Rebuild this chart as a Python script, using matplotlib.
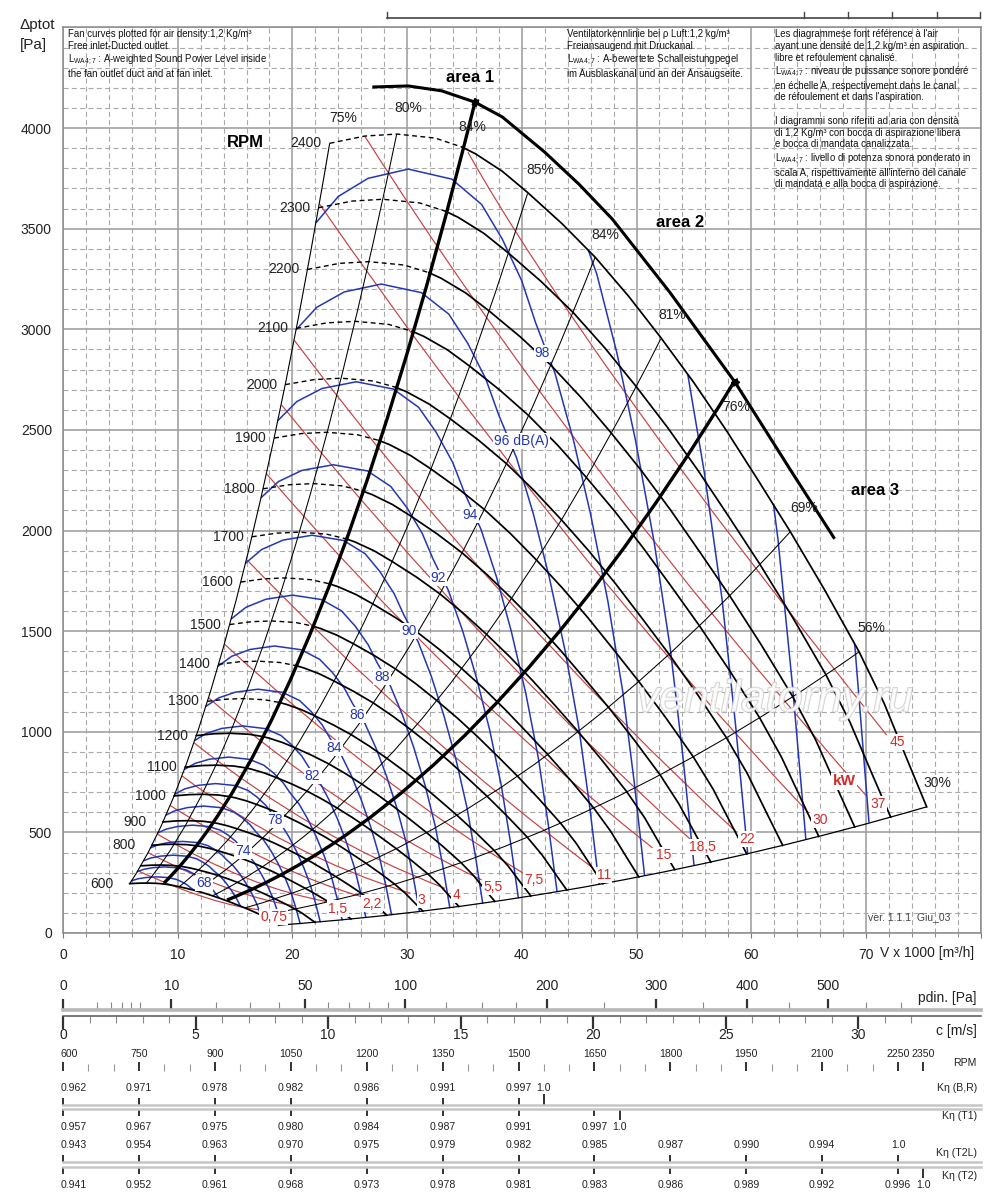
import numpy as np
import matplotlib
matplotlib.use('Agg')
import matplotlib.pyplot as plt
from matplotlib import font_manager
from matplotlib.path import Path
from matplotlib.patches import PathPatch
from matplotlib.transforms import Affine2D
from matplotlib.lines import Line2D
from matplotlib.ticker import MultipleLocator, FixedLocator
import matplotlib.patheffects as pe

plt.rcParams['font.family'] = ['Liberation Sans', 'DejaVu Sans']
plt.rcParams['mathtext.fontset'] = 'custom'
plt.rcParams['mathtext.rm'] = 'Liberation Sans'

# narrow face for the small scales, if there is one
try:
    font_manager.findfont('Liberation Sans Narrow', fallback_to_default=False)
    NARROW, NSIZE = ['Liberation Sans Narrow', 'DejaVu Sans'], 8.5
except ValueError:
    NARROW, NSIZE = ['Liberation Sans', 'DejaVu Sans'], 7.6

# ---------------- data ----------------
# fan curve at 2400 rpm (V x1000 m3/h, total pressure Pa); other speeds by fan laws
curve_v = [23.25, 26.3, 29.1, 32.45, 34.8, 35.96, 38.3, 40.5, 43.5, 46.4, 49.3,
           52.1, 55.0, 57.8, 60.6, 63.4, 66.4, 69.4, 71.6, 73.6, 75.3]
curve_p = [3924, 3960, 3970, 3950, 3905, 3872, 3785, 3680, 3525, 3358, 3165,
           2960, 2735, 2500, 2250, 1995, 1705, 1398, 1140, 861, 627]
top_speed = 2400
dash_end = 4            # point where the curve meets the area 1 line
dashed_from = 1300
speeds = list(range(600, 2401, 100))
speed_text = ['600', '', '800', '900', '1000', '1100', '1200', '1300', '1400', '1500',
              '1600', '1700', '1800', '1900', '2000', '2100', '2200', '2300', '2400']

# sound power curve for 98 dB(A); neighbouring curves 2 dB apart
noise_v = [22.1, 24.0, 26.6, 30.1, 33.9, 36.5, 38.3, 40.0, 41.2, 42.9, 44.5, 46.0,
           47.5, 48.8, 49.8, 50.7]
noise_p = [3532, 3660, 3750, 3796, 3746, 3620, 3448, 3240, 3033, 2780, 2450, 2080,
           1650, 1200, 750, 288]
noise_db = list(range(66, 107, 2))
noise_step = 1.085
noise_label_db = [68, 74, 78, 82, 84, 86, 88, 90, 92, 94, 96, 98]
noise_label_at = (41.8, 2880)

# efficiency system lines p = k V^2 (thin), top end on the 2400 rpm curve
eff_k = [4.69, 2.24, 1.56, 1.087, 0.496, 0.29]
eff_v_top = [29.1, 40.5, 46.4, 52.1, 63.4, 69.4]
# thick area boundaries
area_k = [3.2, 0.8]
area_v0 = [8.8, 14.3]
area_v1 = [35.9, 58.6]
eff_text = ['75%', '80%', '84%', '85%', '84%', '81%', '76%', '69%', '56%', '30%']
eff_text_v = [24.4, 30.1, 35.7, 41.6, 47.3, 53.1, 58.7, 64.6, 70.5, 76.2]
eff_text_p = [4050, 4099, 4005, 3791, 3468, 3071, 2615, 2110, 1514, 744]

# upper limit curve
env_v = [27.1, 30.1, 33.0, 35.9, 38.3, 42.0, 45.0, 47.9, 52.9, 58.6, 63.4, 67.2]
env_p = [4204, 4209, 4185, 4129, 4055, 3880, 3720, 3547, 3184, 2736, 2303, 1965]

# absorbed power lines kW: start, middle, end
kw_text = ['0,75', '', '1,5', '2,2', '3', '4', '5,5', '7,5', '11', '15', '18,5', '22', '30', '37', '45']
kw_v0 = [6.54, 7.43, 8.24, 9.36, 10.39, 11.43, 12.71, 14.09, 16.02, 17.76, 19.05, 20.18, 22.38, 26.3, 35.3]
kw_p0 = [309, 399, 491, 633, 780, 945, 1168, 1435, 1855, 2281, 2624, 2944, 3621, 3960, 3880]
kw_v1 = [12.6, 14.3, 15.9, 18.1, 20.0, 22.1, 24.5, 27.2, 30.9, 34.3, 36.8, 38.9, 43.2, 46.3, 49.4]
kw_p1 = [173, 224, 275, 355, 437, 528, 653, 804, 1038, 1277, 1468, 1648, 2027, 2330, 2653]
kw_v2 = [17.4, 20.2, 23.0, 26.0, 30.3, 33.3, 36.5, 40.1, 46.2, 51.4, 54.8, 58.7, 65.0, 70.1, 71.8]
kw_p2 = [114, 135, 156, 181, 197, 222, 264, 298, 323, 423, 460, 502, 597, 677, 984]

# scales under the chart
outlet_area = 0.642      # m2
air_density = 1.2
c_major = [0, 5, 10, 15, 20, 25, 30]
c_minor = list(range(0, 33))
pdin_major = [0, 10, 50, 100, 200, 300, 400, 500]
pdin_minor = [1, 2, 3, 4, 5, 20, 30, 40, 60, 70, 80, 90, 125, 150, 175, 250, 350, 450, 550, 600]
rpm_ticks = [600, 750, 900, 1050, 1200, 1350, 1500, 1650, 1800, 1950, 2100, 2250, 2300]
rpm_text = ['600', '750', '900', '1050', '1200', '1350', '1500', '1650', '1800', '1950',
            '2100', '2250', '2350']
rpm_minor = list(range(600, 2251, 50))
rpm_axis = (600, 2413)
k_br_rpm = [600, 750, 900, 1050, 1200, 1350, 1500, 1550]
k_br = ['0.962', '0.971', '0.978', '0.982', '0.986', '0.991', '0.997', '1.0']
k_t1_rpm = [600, 750, 900, 1050, 1200, 1350, 1500, 1650, 1700]
k_t1 = ['0.957', '0.967', '0.975', '0.980', '0.984', '0.987', '0.991', '0.997', '1.0']
k_t2l_rpm = [600, 750, 900, 1050, 1200, 1350, 1500, 1650, 1800, 1950, 2100, 2250]
k_t2l = ['0.943', '0.954', '0.963', '0.970', '0.975', '0.979', '0.982', '0.985', '0.987',
         '0.990', '0.994', '1.0']
k_t2_rpm = [600, 750, 900, 1050, 1200, 1350, 1500, 1650, 1800, 1950, 2100, 2250, 2300]
k_t2 = ['0.941', '0.952', '0.961', '0.968', '0.973', '0.978', '0.981', '0.983', '0.986',
        '0.989', '0.992', '0.996', '1.0']

BLUE = '#2436b8'
RED = '#c94040'
RED_T = '#d42a2a'
WHITE_BOX = dict(boxstyle='square,pad=0.08', fc='white', ec='none')

# ---------------- figure ----------------
W, H = 1000, 1203
X0, XW = 63 / W, 917.6 / W
fig = plt.figure(figsize=(W / 100, H / 100), dpi=100)
ax = fig.add_axes([X0, 1 - 933 / H, XW, 905.6 / H])
ax.set_xlim(0, 80)
ax.set_ylim(0, 4500)
ax.set_xticks(range(0, 81, 10))
ax.set_xticklabels([str(v) for v in range(0, 71, 10)] + [''])
ax.set_yticks(range(0, 4501, 500))
ax.set_yticklabels([str(v) for v in range(0, 4001, 500)] + [''])
ax.xaxis.set_minor_locator(MultipleLocator(2))
ax.yaxis.set_minor_locator(MultipleLocator(100))
ax.grid(which='major', color='#9a9a9a', lw=1.1)
ax.grid(which='minor', color='#a8a8a8', lw=0.8, ls=(0, (4.5, 3)))
ax.set_axisbelow(True)
ax.tick_params(axis='x', which='major', length=3.5, width=0.8, color='#777',
               labelsize=10, pad=7, labelcolor='#222')
ax.tick_params(axis='x', which='minor', length=3, width=0.7, color='#888')
ax.tick_params(axis='y', which='both', length=0, labelsize=10, pad=8, labelcolor='#222')
for sp in ax.spines.values():
    sp.set_color('#8c8c8c')
    sp.set_linewidth(1.1)


def system_line(k, v0, v1, **kw):
    # parabola p = k V^2 drawn as a quadratic bezier
    verts = [(v0, k * v0 * v0), ((v0 + v1) / 2, k * v0 * v1), (v1, k * v1 * v1)]
    ax.add_patch(PathPatch(Path(verts, [Path.MOVETO, Path.CURVE3, Path.CURVE3]),
                           fill=False, **kw))


def fan_law(s):
    return Affine2D().scale(s, s * s) + ax.transData


# region inside the fan map (under 2400 rpm, above 600 rpm)
base = np.column_stack([curve_v, curve_p])
s_lo = speeds[0] / top_speed
lo = Affine2D().scale(s_lo, s_lo ** 2).transform(base)
clip = Path(np.vstack([base, [[80, -100], [lo[-1, 0], -100]], lo[::-1], base[:1]]))

# absorbed power lines
for i in range(len(kw_text)):
    s0 = np.array([kw_v0[i], kw_p0[i]])
    m = np.array([kw_v1[i], kw_p1[i]])
    e = np.array([kw_v2[i], kw_p2[i]])
    ctrl = 2 * m - (s0 + e) / 2
    ax.add_patch(PathPatch(Path([s0, ctrl, e], [Path.MOVETO, Path.CURVE3, Path.CURVE3]),
                           fill=False, color=RED, lw=0.85, zorder=2))
    if kw_text[i]:
        ax.annotate(kw_text[i], xy=(kw_v2[i], kw_p2[i]), xytext=(8, -5),
                    textcoords='offset points', ha='center', va='center',
                    color=RED_T, fontsize=10, zorder=7, bbox=WHITE_BOX)
ax.text(68.1, 753, 'kW', color=RED_T, fontsize=11, fontweight='bold',
        ha='center', va='center', zorder=7, bbox=WHITE_BOX)

# sound power curves
for db in noise_db:
    s = noise_step ** ((db - 98) / 2)
    ln, = ax.plot(noise_v, noise_p, transform=fan_law(s), color=BLUE, lw=1.1, zorder=3)
    ln.set_clip_path(clip, ax.transData)
for db in noise_label_db:
    s = noise_step ** ((db - 98) / 2)
    if db == 96:
        ax.annotate('96 dB(A)', xy=noise_label_at, xycoords=fan_law(s), xytext=(-8, 0),
                    textcoords='offset points', ha='left', va='center', color=BLUE,
                    fontsize=10, zorder=7, bbox=WHITE_BOX)
    else:
        ax.annotate(str(db), xy=noise_label_at, xycoords=fan_law(s), ha='center',
                    va='center', color=BLUE, fontsize=10, zorder=7, bbox=WHITE_BOX)

# efficiency lines
k_stall = curve_p[0] / curve_v[0] ** 2
k_end = curve_p[-1] / curve_v[-1] ** 2
system_line(k_stall, curve_v[0] * s_lo, curve_v[0], color='k', lw=0.8, zorder=4)
system_line(k_end, curve_v[-1] * s_lo, curve_v[-1], color='k', lw=0.9, zorder=4)
for k, vt in zip(eff_k, eff_v_top):
    system_line(k, vt * s_lo, vt, color='k', lw=0.75, zorder=4)
for k, v0, v1 in zip(area_k, area_v0, area_v1):
    system_line(k, v0, v1, color='k', lw=2.4, zorder=5)
for t, v, p in zip(eff_text, eff_text_v, eff_text_p):
    ax.text(v, p, t, fontsize=10, ha='center', va='center', color='#222', zorder=7)

# fan curves
for n, lab in zip(speeds, speed_text):
    tr = fan_law(n / top_speed)
    if n >= dashed_from:
        ax.plot(curve_v[:dash_end + 1], curve_p[:dash_end + 1], transform=tr, color='k',
                lw=1.0, ls=(0, (3.5, 2.5)), zorder=4)
        ax.plot(curve_v[dash_end:], curve_p[dash_end:], transform=tr, color='k',
                lw=1.25, zorder=4)
    else:
        ax.plot(curve_v, curve_p, transform=tr, color='k', lw=1.25, zorder=4)
    if lab:
        ax.annotate(lab, xy=(curve_v[0], curve_p[0]), xycoords=tr,
                    xytext=(-6 if n >= 1000 else -12, 0), textcoords='offset points',
                    ha='right', va='center', fontsize=10, color='#222', zorder=7)

# limit curve with the area marks
ax.plot(env_v, env_p, color='k', lw=2.2, zorder=5)
for (v, p), ang in zip([(35.9, 4129), (58.6, 2736)], [-23, -56]):
    ax.plot(v, p, marker=(3, 0, ang - 90), ms=6, color='k', zorder=6)
    ax.plot(v, p, marker=(3, 0, ang + 90), ms=6, color='k', zorder=6)

ax.text(35.5, 4249, 'area 1', fontsize=12, fontweight='bold', ha='center', va='center')
ax.text(53.8, 3533, 'area 2', fontsize=12, fontweight='bold', ha='center', va='center')
ax.text(70.8, 2201, 'area 3', fontsize=12, fontweight='bold', ha='center', va='center')
ax.text(15.9, 3930, 'RPM', fontsize=12, fontweight='bold', ha='center', va='center')
ax.text(73.8, 80, 'ver. 1.1.1  Giu_03', fontsize=7.5, ha='center', va='center', color='#444')
ax.text(62.1, 1158, 'ventilatorny.ru', fontsize=32, style='italic', ha='center',
        va='center', color='white', alpha=0.75, zorder=8,
        path_effects=[pe.withStroke(linewidth=1.3, foreground='#c4c4c4')])

# notes
lwa = r'L$_{\mathrm{WA4;7}}$'
note_kw = dict(fontsize=6.9, va='top', linespacing=1.22, color='#111')
fig.text(68 / W, 1 - 29 / H,
         'Fan curves plotted for air density:1,2 Kg/m³\nFree inlet-Ducted outlet.\n'
         + lwa + ' : A-weighted Sound Power Level inside\nthe fan outlet duct and at fan inlet.',
         **note_kw)
fig.text(567 / W, 1 - 29 / H,
         'Ventilatorkennlinie bei ρ Luft:1,2 kg/m³\nFreiansaugend mit Druckanal.\n'
         + lwa + ' : A-bewertete Schalleistungpegel\nim Ausblaskanal und an der Ansaugseite.',
         **note_kw)
fig.text(775 / W, 1 - 29 / H,
         "Les diagrammese font référence à l'air\nayant une densité de 1,2 kg/m³ en aspiration\n"
         "libre et refoulement canalisé.\n" + lwa + " : niveau de puissance sonore pondéré\n"
         "en échelle A, respectivement dans le canal\nde réfoulement et dans l'aspiration.\n\n"
         "I diagrammi sono riferiti ad aria con densità\ndi 1,2 Kg/m³ con bocca di aspirazione libera\n"
         "e bocca di mandata canalizzata.\n" + lwa + " : livello di potenza sonora ponderato in\n"
         "scala A, rispettivamente all'interno del canale\ndi mandata e alla bocca di aspirazione.",
         **note_kw)
fig.text(20 / W, 1 - 25 / H, 'Δptot', fontsize=11, va='center', color='#222')
fig.text(20 / W, 1 - 45 / H, '[Pa]', fontsize=11, va='center', color='#222')
fig.text(880 / W, 1 - 953 / H, 'V x 1000 [m³/h]', fontsize=10, va='center', color='#222')

# cropped header box at the top
fig.add_artist(Line2D([387 / W, 980 / W], [1 - 18 / H] * 2, color='#444', lw=1.2))
for xp in [387, 804, 848, 892, 937, 980]:
    fig.add_artist(Line2D([xp / W] * 2, [1 - 18 / H, 1 - 12 / H], color='#444', lw=1.0))


# ---------------- scales under the chart ----------------
def strip(top_px, bottom_px):
    a = fig.add_axes([X0, 1 - bottom_px / H, XW, (bottom_px - top_px) / H])
    a.patch.set_visible(False)
    a.set_yticks([])
    for sp in a.spines.values():
        sp.set_visible(False)
    return a


def put_labels(a, xs, texts, anchor, dy, fam, size, first_left=False):
    # labels offset from the scale line (anchor = 0 bottom edge, 1 top edge)
    for i, (x, t) in enumerate(zip(xs, texts)):
        ha = 'left' if (first_left and i == 0) else 'center'
        a.annotate(t, xy=(x, anchor), xycoords=('data', 'axes fraction'),
                   xytext=(-2 if ha == 'left' else 0, dy), textcoords='offset points',
                   ha=ha, va='center', fontsize=size, fontfamily=fam, color='#222')


# velocity and dynamic pressure
c_max = 80 / 3.6 / outlet_area
ax_c = strip(1010, 1016)
ax_c.set_xlim(0, c_max)
ax_c.spines['bottom'].set_visible(True)
ax_c.spines['bottom'].set_color('#555')
ax_c.spines['bottom'].set_linewidth(1.1)
ax_c.set_xticks(c_major)
ax_c.set_xticklabels([])
ax_c.xaxis.set_minor_locator(FixedLocator(c_minor))
ax_c.tick_params(axis='x', which='major', direction='out', length=9, width=1.6, color='#333')
ax_c.tick_params(axis='x', which='minor', direction='out', length=5, width=0.8, color='#888')
put_labels(ax_c, c_major, [str(v) for v in c_major], 0, -14, ['Liberation Sans'], 10)

ax_p = strip(1004, 1010)
ax_p.set_xscale('function', functions=(lambda p: np.sqrt(np.maximum(p, 0) * 2 / air_density),
                                       lambda c: air_density * np.asarray(c) ** 2 / 2))
ax_p.set_xlim(0, air_density * c_max ** 2 / 2)
ax_p.spines['bottom'].set_visible(True)
ax_p.spines['bottom'].set_color('#b8b8b8')
ax_p.spines['bottom'].set_linewidth(2.6)
ax_p.set_xticks(pdin_major)
ax_p.set_xticklabels([])
ax_p.xaxis.set_minor_locator(FixedLocator(pdin_minor))
ax_p.tick_params(axis='x', which='major', direction='in', length=8, width=1.6, color='#333')
ax_p.tick_params(axis='x', which='minor', direction='in', length=5.5, width=0.8, color='#888')
put_labels(ax_p, pdin_major, [str(v) for v in pdin_major], 1, 13, ['Liberation Sans'], 10)

fig.text(977 / W, 1 - 998 / H, 'pdin. [Pa]', fontsize=10, ha='right', va='center', color='#222')
fig.text(977 / W, 1 - 1031 / H, 'c [m/s]', fontsize=10, ha='right', va='center', color='#222')

# speed scale
ax_r = strip(1065, 1071)
ax_r.set_xlim(*rpm_axis)
ax_r.set_xticks(rpm_ticks)
ax_r.set_xticklabels([])
ax_r.xaxis.set_minor_locator(FixedLocator(rpm_minor))
ax_r.tick_params(axis='x', which='major', direction='in', length=6.5, width=1.3, color='#222')
ax_r.tick_params(axis='x', which='minor', direction='in', length=5, width=0.8, color='#999')
put_labels(ax_r, rpm_ticks, rpm_text, 0, 12, NARROW, NSIZE, first_left=True)
fig.text(977 / W, 1 - 1063 / H, 'RPM', fontsize=NSIZE, fontfamily=NARROW, ha='right',
         va='center', color='#222')


def k_scale(edge_px, up, rpm, text, name, name_px, long_last):
    a = strip(edge_px - 6, edge_px) if up else strip(edge_px, edge_px + 6)
    side = 'bottom' if up else 'top'
    a.set_xlim(*rpm_axis)
    a.spines[side].set_visible(True)
    a.spines[side].set_color('#c6c6c6')
    a.spines[side].set_linewidth(1.8)
    a.xaxis.set_ticks_position(side)
    a.set_xticks(rpm[:-1] if long_last else rpm)
    a.set_xticklabels([])
    if long_last:
        a.xaxis.set_minor_locator(FixedLocator(rpm[-1:]))
    a.tick_params(axis='x', which='major', direction='in', length=5, width=1.3, color='#222')
    a.tick_params(axis='x', which='minor', direction='in', length=8, width=1.3, color='#222')
    if up:
        put_labels(a, rpm, text, 0, 12.5, NARROW, NSIZE, first_left=True)
    else:
        put_labels(a, rpm, text, 1, -13, NARROW, NSIZE, first_left=True)
    fig.text(977 / W, 1 - name_px / H, name, fontsize=NSIZE, fontfamily=NARROW, ha='right',
             va='center', color='#222')


k_scale(1105, True, k_br_rpm, k_br, 'Kη (B,R)', 1088, True)
k_scale(1109, False, k_t1_rpm, k_t1, 'Kη (T1)', 1116, True)
k_scale(1162, True, k_t2l_rpm, k_t2l, 'Kη (T2L)', 1153, False)
k_scale(1167, False, k_t2_rpm, k_t2, 'Kη (T2)', 1176, True)

fig.savefig('out.png', dpi=100, facecolor='white')
